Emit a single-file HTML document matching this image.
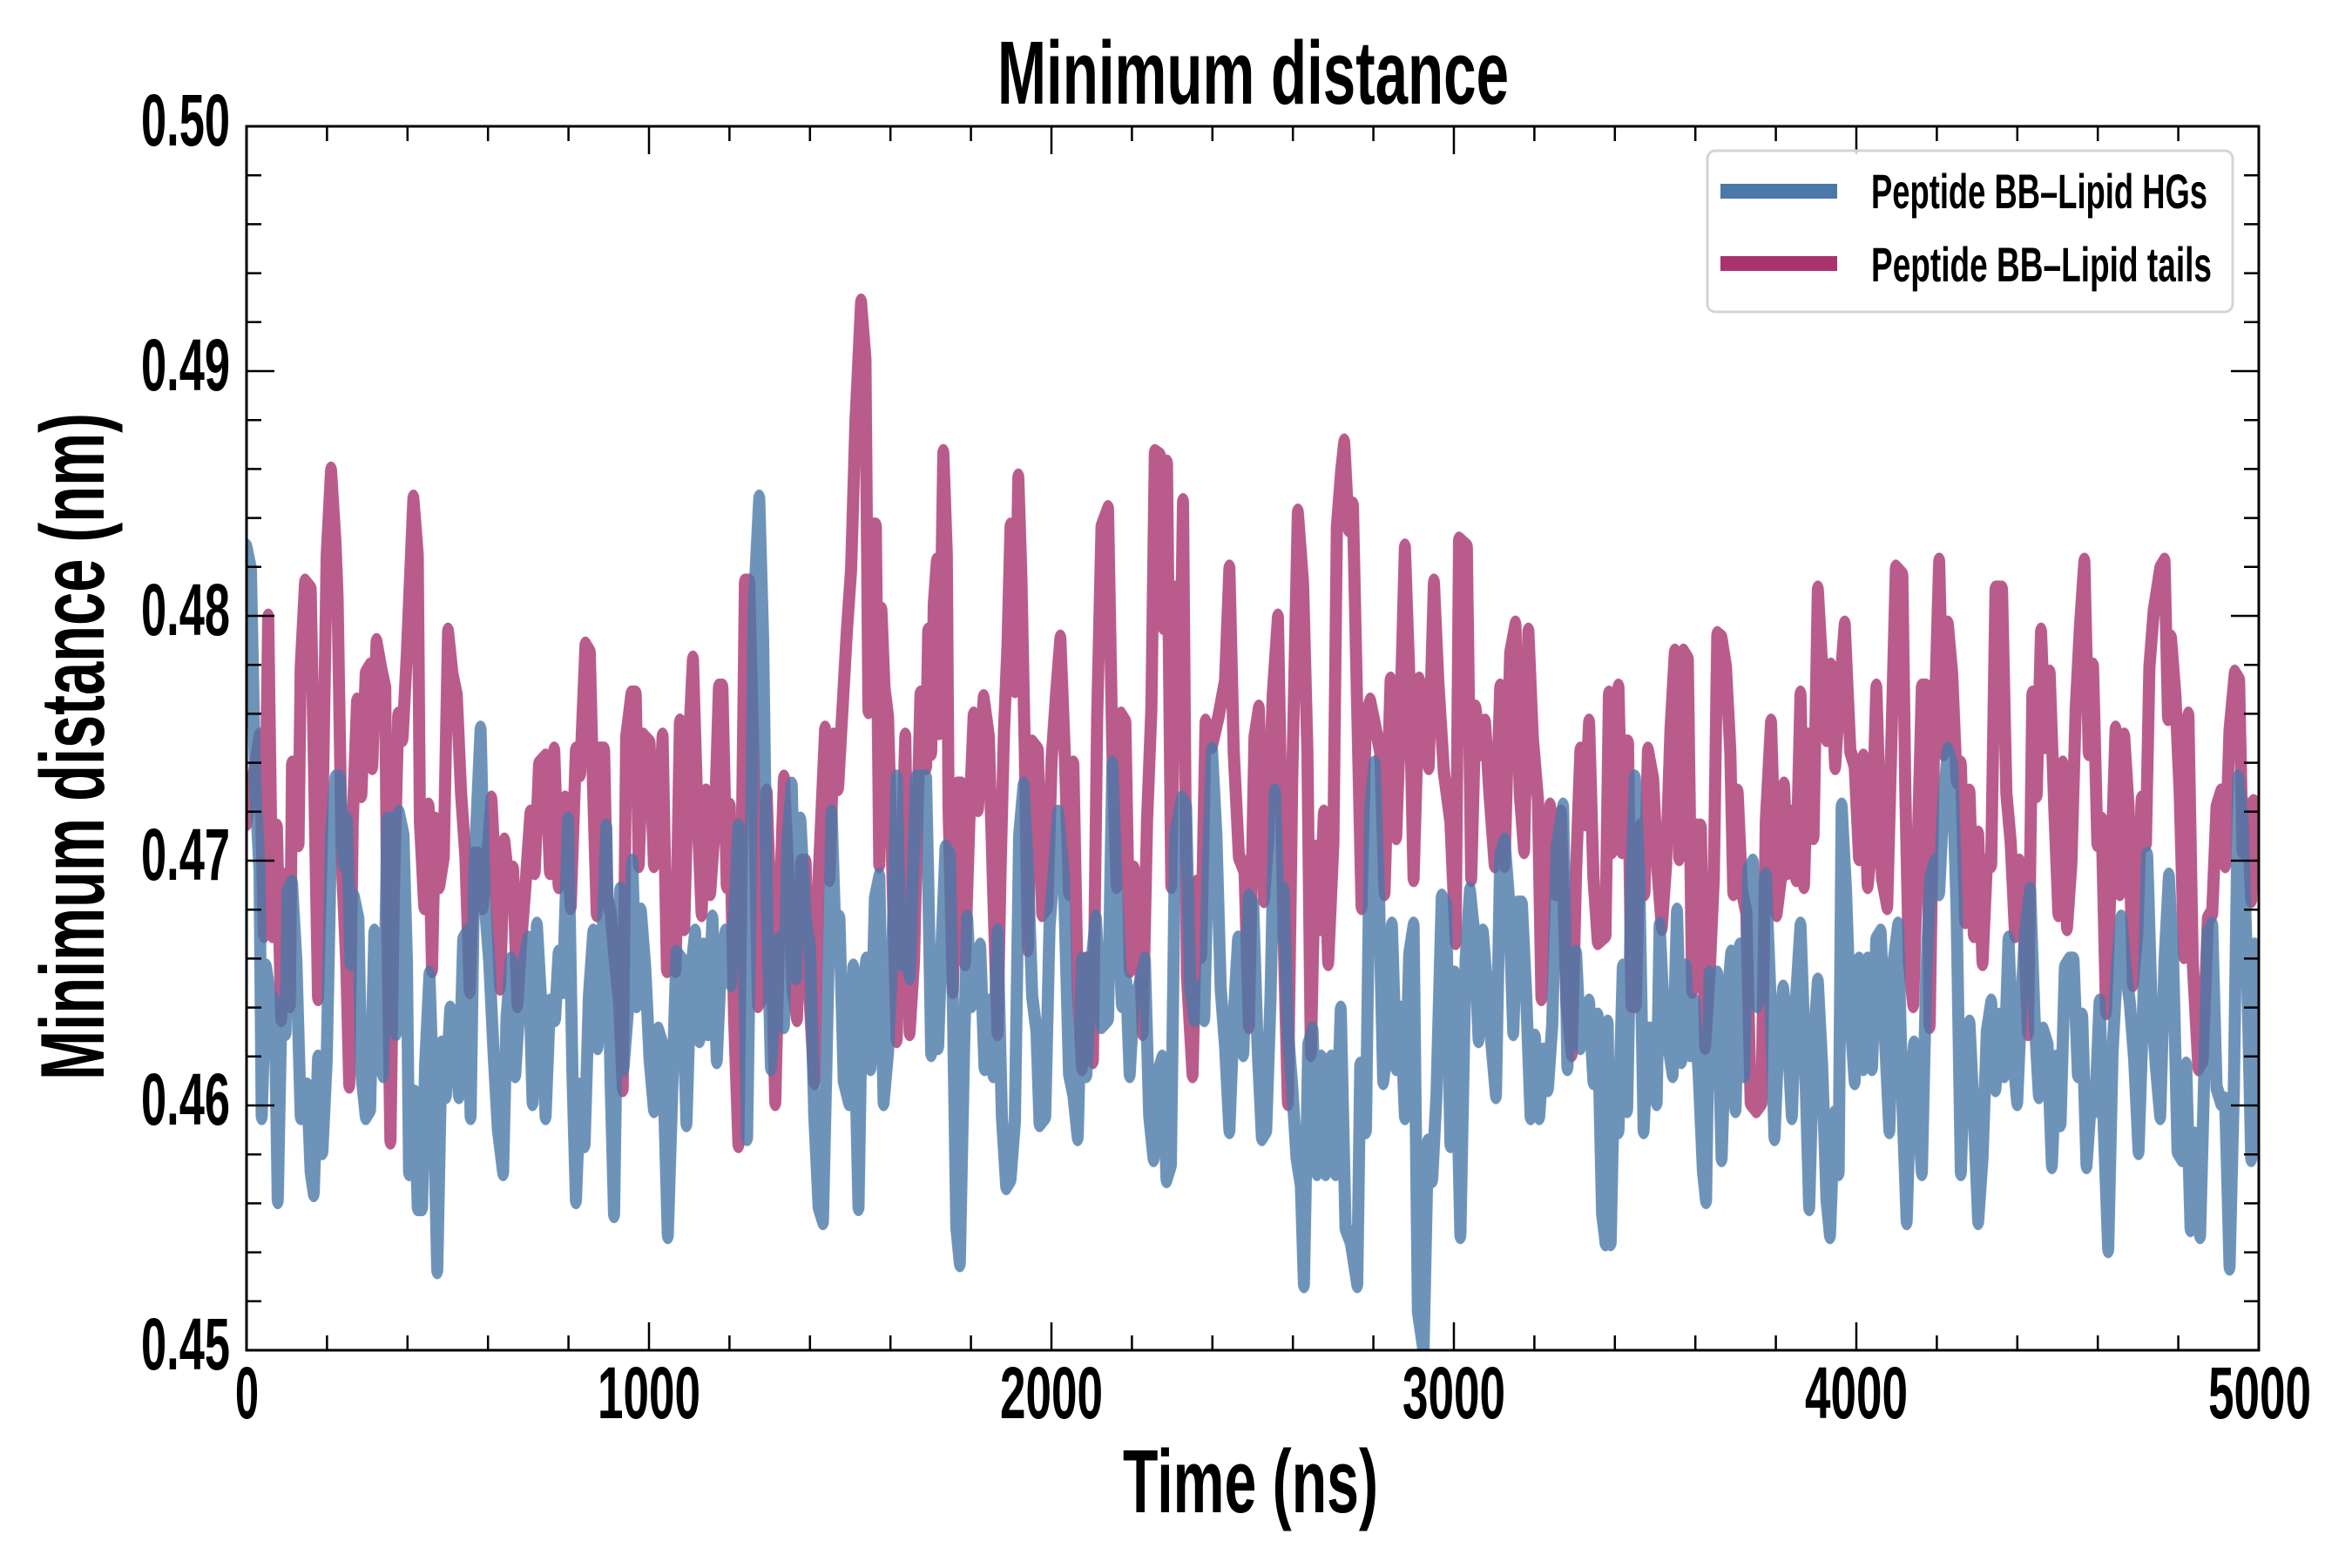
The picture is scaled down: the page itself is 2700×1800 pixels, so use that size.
<!DOCTYPE html>
<html>
<head>
<meta charset="utf-8">
<style>
  html, body { margin: 0; padding: 0; background: #ffffff; }
  svg { display: block; }
  text { font-family: "Liberation Sans Narrow", "Liberation Sans", sans-serif; font-weight: bold; fill: #000; }
</style>
</head>
<body>
<svg width="2700" height="1800" viewBox="0 0 2700 1800" xmlns="http://www.w3.org/2000/svg">
  <rect x="0" y="0" width="2700" height="1800" fill="#ffffff"/>
  <defs>
    <clipPath id="plotclip"><rect x="283" y="145" width="2310" height="1405"/></clipPath>
  </defs>

  <g clip-path="url(#plotclip)">
    <!-- Pink series: Peptide BB-Lipid tails -->
    <g opacity="0.8" fill="none" stroke="#a8336f" stroke-width="28" stroke-linejoin="round" stroke-linecap="round">
      <polyline transform="translate(283,300) scale(0.497512,0.803600)" points="0,800 30,680 40,960 50,510 60,960 70,810 80,1080 90,880 100,1060 105,720 115,720 120,830 125,580 135,460 148,470 155,700 165,1050 175,800 185,420 195,300 205,400 210,480 220,860 230,1000 237,1175 245,800 255,630 265,760 275,590 285,580 290,720 300,545 310,580 320,610 325,960 332,1255 340,900 350,650 360,680 370,560 385,340 395,420 400,800 410,920 420,780 428,1010 435,800 445,890 455,850 465,530 475,590 485,620 495,760 505,850 515,1040 525,850 535,850 545,920 555,850 565,770 575,890 585,1035 595,830 605,890 615,870 625,1060 635,960 645,880 655,790 665,870 675,720 690,710 700,870 710,700 720,890 735,770 748,920 760,700 770,730 782,550 792,560 800,760 808,930 815,700 825,700 832,910 840,930 850,1000 860,1060 868,1180 876,680 888,620 898,620 905,860 915,680 930,690 940,860 950,830 960,680 970,1010 980,900 990,1010 1000,660 1010,950 1020,700 1030,570 1040,780 1050,930 1060,760 1070,900 1080,810 1090,610 1098,610 1108,890 1115,780 1125,1080 1135,1260 1143,820 1150,460 1160,460 1170,720 1180,1060 1190,1050 1200,760 1210,940 1220,1200 1230,930 1240,740 1250,870 1260,1040 1270,1080 1280,860 1290,860 1298,1040 1310,1170 1320,880 1335,670 1345,880 1355,680 1365,750 1375,640 1385,530 1395,440 1405,230 1418,60 1428,140 1435,640 1445,380 1452,380 1460,860 1465,500 1472,610 1480,650 1490,870 1500,1110 1510,900 1520,680 1530,1100 1540,1000 1555,620 1568,720"/>
      <polyline transform="translate(1063,300) scale(0.497512,0.803600)" points="0,720 5,530 12,700 18,490 25,430 30,670 40,275 48,420 52,780 62,1040 72,750 82,750 90,1000 100,800 110,650 120,780 133,625 145,680 155,900 165,1100 172,870 180,670 188,550 195,380 205,610 213,310 220,450 228,700 235,980 245,690 258,700 268,930 280,920 290,710 300,620 310,540 320,700 330,900 340,720 350,1040 360,1150 370,1000 385,1140 395,650 405,380 420,355 430,700 440,890 450,650 460,660 470,1010 480,870 490,930 500,1100 510,800 520,640 528,275 540,280 548,520 556,290 566,890 575,470 585,680 593,345 602,1020 615,1160 625,890 635,990 645,660 660,690 675,650 690,600 700,440 710,700 722,850 735,870 745,1090 758,680 768,640 780,910 790,820 800,620 812,510 825,960 835,1200 845,740 858,360 870,460 880,700 888,1130 898,840 908,950 918,790 928,1000 940,830 948,380 958,300 965,260 975,380 985,350 995,640 1005,920 1015,650 1025,630 1035,660 1048,700 1058,900 1072,600 1085,820 1095,640 1105,410 1115,590 1125,880 1138,600 1150,640 1160,720 1172,460 1182,600 1195,730 1210,800 1222,970 1230,400 1248,410 1258,880 1268,640 1280,700 1290,660 1300,760 1312,860 1325,610 1335,860 1348,560 1360,520 1370,760 1380,840 1390,530 1400,680 1412,770 1420,1050 1430,880 1440,780 1452,900 1465,790 1478,1060 1490,1130 1500,870 1510,700 1520,800 1530,660 1540,880 1550,970 1568,960"/>
      <polyline transform="translate(1843,300) scale(0.497512,0.803600)" points="0,960 8,620 15,840 22,700 30,610 38,840 45,690 52,690 60,1060 70,1060 80,810 90,900 98,700 110,740 120,870 130,950 140,860 150,670 160,560 170,850 180,560 190,570 200,1040 210,810 220,810 230,1120 240,1020 250,880 258,535 268,540 278,580 288,700 295,900 305,760 315,900 325,930 335,1200 348,1210 360,1200 370,800 382,660 395,930 405,880 412,750 420,870 430,790 440,880 450,620 458,890 468,680 480,820 490,470 500,580 510,680 520,580 530,720 540,620 552,520 565,700 575,720 585,850 595,710 605,890 615,830 625,610 638,880 650,920 660,680 670,440 685,450 692,760 700,1000 710,1060 720,850 730,610 740,610 748,1090 758,690 770,430 780,700 790,520 800,590 810,740 820,720 830,940 840,760 850,960 860,820 870,1000 880,860 890,860 900,470 915,470 925,760 935,830 945,960 955,860 965,950 975,1100 985,620 995,760 1005,530 1015,690 1025,590 1035,770 1045,930 1055,720 1065,950 1075,860 1085,640 1095,520 1105,430 1115,700 1125,580 1135,830 1145,800 1155,1070 1165,900 1177,670 1187,900 1197,680 1207,780 1217,1030 1227,960 1237,770 1247,830 1255,580 1265,500 1280,440 1290,430 1298,650 1305,540 1315,620 1325,760 1335,990 1345,650 1355,1000 1368,1150 1378,1140 1390,940 1400,930 1410,780 1420,760 1430,860 1440,670 1452,590 1462,600 1470,840 1480,780 1490,910 1495,775 1510,780"/>
    </g>

    <!-- Blue series: Peptide BB-Lipid HGs -->
    <g opacity="0.8" fill="none" stroke="#4a78a8" stroke-width="28" stroke-linejoin="round" stroke-linecap="round">
      <polyline transform="translate(283,300) scale(0.497512,0.803600)" points="0,410 10,440 20,750 30,870 35,1220 45,1010 55,1050 65,1060 72,1340 80,1080 90,1100 95,900 105,890 115,1000 125,1220 140,1180 148,1300 155,1330 165,1140 175,1270 185,1140 195,820 205,740 215,740 225,860 232,800 240,1000 248,910 258,940 265,1160 275,1220 285,1210 295,960 305,1140 315,1160 325,800 335,800 345,1100 352,790 362,820 370,1000 375,1300 388,1190 395,1350 405,1350 412,1150 422,1020 432,1210 440,1440 450,1120 460,1190 470,1070 480,1080 490,1190 500,970 510,960 517,1220 525,880 540,670 550,920 560,1000 570,1130 580,1240 592,1300 600,1080 610,1000 620,1160 630,1060 640,1000 650,970 660,1200 670,950 680,1060 690,1220 700,1060 712,1080 720,990 730,1040 742,800 752,1160 760,1340 770,1180 780,1260 790,1050 800,960 810,1120 820,990 830,810 840,1170 848,1360 855,1060 862,900 870,1150 880,1070 890,860 900,1060 910,930 920,1010 930,1140 940,1210 950,1100 960,1120 972,1390 982,1190 992,990 1005,1000 1015,1230 1025,1020 1035,960 1045,1110 1055,980 1065,1100 1075,940 1085,1140 1095,1000 1105,960 1112,1010 1118,1030 1125,940 1135,810 1145,900 1155,1250 1163,900 1170,500 1183,340 1192,540 1200,900 1210,1150 1220,1040 1230,970 1240,1090 1248,830 1258,750 1268,1020 1278,800 1290,940 1300,980 1310,1220 1320,1350 1330,1370 1340,1090 1350,790 1358,950 1368,940 1378,1170 1390,1200 1400,1010 1412,1350 1420,1050 1430,1000 1440,1150 1450,910 1460,880 1470,1200 1480,1130 1490,990 1500,740 1510,1000 1520,980 1530,1020 1545,740 1568,740"/>
      <polyline transform="translate(1063,300) scale(0.497512,0.803600)" points="0,740 5,880 12,1130 20,1040 28,1120 35,990 45,840 55,850 62,1060 70,1380 78,1430 88,1120 95,940 105,1060 115,1000 125,980 135,1150 145,1060 155,1160 165,960 175,1220 185,1320 195,1310 205,1230 215,820 225,750 235,870 245,1050 255,1100 262,1230 275,1220 285,950 295,870 305,790 318,880 330,1160 340,1190 350,1250 360,1000 370,1160 382,1000 392,940 405,1090 420,1080 430,720 440,900 452,1060 462,1030 470,1160 480,1050 490,1040 505,1000 515,1220 525,1280 535,1160 545,1140 555,1310 565,1290 575,820 590,770 600,780 610,1040 620,1080 630,1040 642,1080 650,870 660,700 670,820 680,1040 690,1120 700,1240 710,1080 720,970 732,1130 745,910 755,920 765,1120 775,1250 785,1240 795,1050 805,760 815,960 825,900 835,1100 845,1180 855,1280 865,1320 872,1460 882,1120 892,1100 902,1300 912,1140 922,1300 935,1140 945,1300 957,1070 968,1380 980,1400 995,1460 1002,1150 1015,1240 1025,780 1035,720 1045,900 1055,1170 1065,1120 1075,950 1085,1150 1095,1070 1105,1220 1115,990 1125,950 1135,1500 1148,1555 1158,1260 1168,1310 1178,1190 1190,910 1200,920 1210,1260 1220,1020 1233,1390 1245,1000 1255,900 1265,960 1275,1110 1285,960 1295,1040 1305,1120 1315,1190 1325,850 1335,830 1345,910 1355,1100 1365,920 1375,920 1385,1050 1395,1220 1405,1110 1415,1220 1425,1130 1435,1180 1445,1090 1455,840 1470,780 1480,1150 1490,1000 1500,990 1510,1120 1520,1100 1530,1060 1540,1170 1550,1080 1560,1360 1568,1400"/>
      <polyline transform="translate(1843,300) scale(0.497512,0.803600)" points="0,1400 5,1090 12,1400 20,1160 30,1240 40,1010 50,1210 60,880 68,740 78,880 88,1240 98,1100 108,1100 118,1200 125,950 135,1080 145,1120 155,1160 165,930 175,1140 185,1010 195,1130 205,1060 215,1160 225,1300 232,1340 240,1020 248,1170 258,1020 268,1280 278,1080 290,990 300,1210 310,980 320,1160 330,870 340,860 350,1060 360,1040 370,880 380,1040 390,1250 400,1100 410,1040 420,1100 430,1220 440,1050 450,950 460,1130 470,1350 480,1120 490,1030 500,1150 510,1340 518,1390 528,1220 538,1300 545,780 555,900 565,1080 575,1170 585,1000 595,1150 605,1000 615,1150 625,970 635,960 645,1110 655,1240 665,1000 675,950 685,1200 695,1370 705,1160 712,1120 720,1200 730,1300 740,1020 750,880 760,860 770,900 780,770 790,700 800,720 810,920 820,1300 830,1100 840,1090 850,1220 860,1370 870,1280 880,1100 890,1060 900,1180 910,1080 920,1160 930,970 940,1130 950,1200 960,1050 968,960 980,900 990,1080 1000,1190 1010,1100 1020,1120 1030,1290 1040,1140 1050,1230 1060,1010 1070,1000 1080,1000 1090,1160 1100,1080 1110,1290 1120,1200 1130,1210 1140,1060 1150,1240 1160,1410 1170,1130 1180,1010 1190,940 1200,1010 1210,1060 1220,1140 1230,1270 1240,1080 1250,850 1260,1060 1270,1150 1280,1220 1290,1000 1300,880 1310,1000 1320,1270 1330,1280 1340,1150 1350,1380 1360,1250 1372,1390 1380,1200 1390,960 1400,950 1410,1180 1420,1200 1430,1200 1440,1435 1450,1180 1460,740 1470,800 1480,1000 1490,1280 1498,980 1510,1020"/>
    </g>
  </g>

  <!-- Ticks -->
  <g stroke="#000" stroke-width="2.5" fill="none">
    <path d="M283 1550 v-32 M745 1550 v-32 M1207 1550 v-32 M1669 1550 v-32 M2131 1550 v-32 M2593 1550 v-32"/>
    <path d="M375.4 1550 v-17 M467.8 1550 v-17 M560.2 1550 v-17 M652.6 1550 v-17 M837.4 1550 v-17 M929.8 1550 v-17 M1022.2 1550 v-17 M1114.6 1550 v-17 M1299.4 1550 v-17 M1391.8 1550 v-17 M1484.2 1550 v-17 M1576.6 1550 v-17 M1761.4 1550 v-17 M1853.8 1550 v-17 M1946.2 1550 v-17 M2038.6 1550 v-17 M2223.4 1550 v-17 M2315.8 1550 v-17 M2408.2 1550 v-17 M2500.6 1550 v-17"/>
    <path d="M283 145 v32 M745 145 v32 M1207 145 v32 M1669 145 v32 M2131 145 v32 M2593 145 v32"/>
    <path d="M375.4 145 v17 M467.8 145 v17 M560.2 145 v17 M652.6 145 v17 M837.4 145 v17 M929.8 145 v17 M1022.2 145 v17 M1114.6 145 v17 M1299.4 145 v17 M1391.8 145 v17 M1484.2 145 v17 M1576.6 145 v17 M1761.4 145 v17 M1853.8 145 v17 M1946.2 145 v17 M2038.6 145 v17 M2223.4 145 v17 M2315.8 145 v17 M2408.2 145 v17 M2500.6 145 v17"/>
    <path d="M283 145 h32 M283 426 h32 M283 707 h32 M283 988 h32 M283 1269 h32 M283 1550 h32"/>
    <path d="M283 201.2 h17 M283 257.4 h17 M283 313.6 h17 M283 369.8 h17 M283 482.2 h17 M283 538.4 h17 M283 594.6 h17 M283 650.8 h17 M283 763.2 h17 M283 819.4 h17 M283 875.6 h17 M283 931.8 h17 M283 1044.2 h17 M283 1100.4 h17 M283 1156.6 h17 M283 1212.8 h17 M283 1325.2 h17 M283 1381.4 h17 M283 1437.6 h17 M283 1493.8 h17"/>
    <path d="M2593 145 h-32 M2593 426 h-32 M2593 707 h-32 M2593 988 h-32 M2593 1269 h-32 M2593 1550 h-32"/>
    <path d="M2593 201.2 h-17 M2593 257.4 h-17 M2593 313.6 h-17 M2593 369.8 h-17 M2593 482.2 h-17 M2593 538.4 h-17 M2593 594.6 h-17 M2593 650.8 h-17 M2593 763.2 h-17 M2593 819.4 h-17 M2593 875.6 h-17 M2593 931.8 h-17 M2593 1044.2 h-17 M2593 1100.4 h-17 M2593 1156.6 h-17 M2593 1212.8 h-17 M2593 1325.2 h-17 M2593 1381.4 h-17 M2593 1437.6 h-17 M2593 1493.8 h-17"/>
  </g>

  <!-- Frame -->
  <rect x="283" y="145" width="2310" height="1405" fill="none" stroke="#000" stroke-width="3"/>

  <!-- Y tick labels -->
  <g font-size="84" text-anchor="end">
    <text x="264" y="167" textLength="102" lengthAdjust="spacingAndGlyphs">0.50</text>
    <text x="264" y="448" textLength="102" lengthAdjust="spacingAndGlyphs">0.49</text>
    <text x="264" y="729" textLength="102" lengthAdjust="spacingAndGlyphs">0.48</text>
    <text x="264" y="1010" textLength="102" lengthAdjust="spacingAndGlyphs">0.47</text>
    <text x="264" y="1291" textLength="102" lengthAdjust="spacingAndGlyphs">0.46</text>
    <text x="264" y="1572" textLength="102" lengthAdjust="spacingAndGlyphs">0.45</text>
  </g>

  <!-- X tick labels -->
  <g font-size="84">
    <text x="270" y="1628" textLength="27" lengthAdjust="spacingAndGlyphs">0</text>
    <text x="686" y="1628" textLength="118" lengthAdjust="spacingAndGlyphs">1000</text>
    <text x="1148" y="1628" textLength="118" lengthAdjust="spacingAndGlyphs">2000</text>
    <text x="1610" y="1628" textLength="118" lengthAdjust="spacingAndGlyphs">3000</text>
    <text x="2072" y="1628" textLength="118" lengthAdjust="spacingAndGlyphs">4000</text>
    <text x="2535" y="1628" textLength="118" lengthAdjust="spacingAndGlyphs">5000</text>
  </g>

  <!-- Title -->
  <text x="1145" y="119" font-size="103" textLength="587" lengthAdjust="spacingAndGlyphs">Minimum distance</text>

  <!-- X label -->
  <text x="1289" y="1736" font-size="103" textLength="293" lengthAdjust="spacingAndGlyphs">Time (ns)</text>

  <!-- Y label -->
  <text transform="translate(119,1240) rotate(-90)" x="0" y="0" font-size="104" textLength="766" lengthAdjust="spacingAndGlyphs">Minimum distance (nm)</text>

  <!-- Legend -->
  <rect x="1960" y="173" width="603" height="185" rx="9" ry="9" fill="#ffffff" fill-opacity="0.8" stroke="#d4d4d4" stroke-width="3"/>
  <rect x="1975" y="211" width="134" height="17" fill="#4a78a8"/>
  <rect x="1975" y="294" width="134" height="17" fill="#a8336f"/>
  <g font-size="56">
    <text x="2148" y="239" textLength="386" lengthAdjust="spacingAndGlyphs">Peptide BB–Lipid HGs</text>
    <text x="2148" y="323" textLength="391" lengthAdjust="spacingAndGlyphs">Peptide BB–Lipid tails</text>
  </g>
</svg>
</body>
</html>
